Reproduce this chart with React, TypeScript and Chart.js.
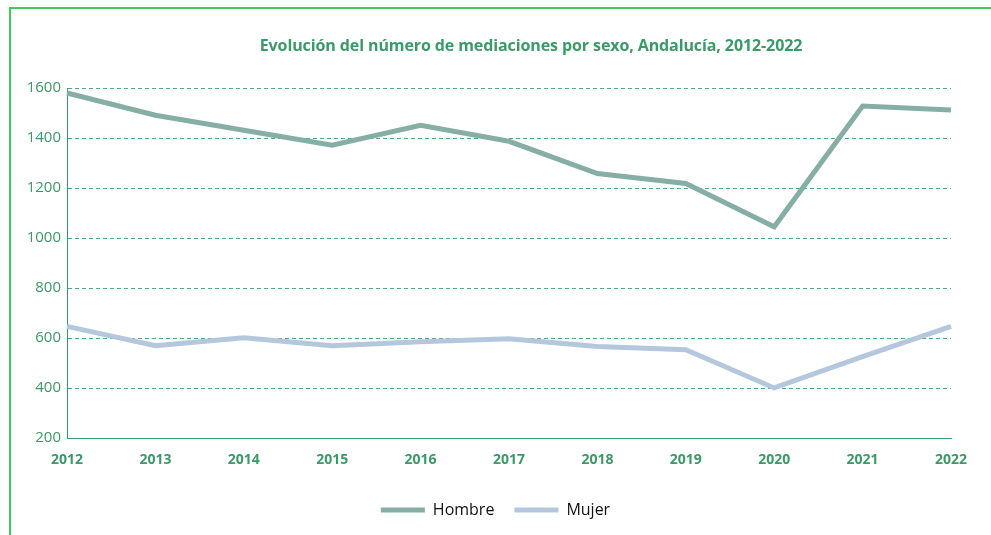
import React, { useEffect, useRef } from "react";
import { Chart, registerables } from "chart.js";

Chart.register(...registerables);

const years = ["2012", "2013", "2014", "2015", "2016", "2017", "2018", "2019", "2020", "2021", "2022"];
const hombre = [1580, 1491, 1431, 1371, 1451, 1387, 1258, 1218, 1045, 1528, 1512];
const mujer = [647, 570, 602, 570, 586, 598, 567, 554, 401, 526, 647];
const titleText = "Evolución del número de mediaciones por sexo, Andalucía, 2012-2022";

const GREEN = "#3a9a68";
const GRID = "#52aa7e";
const HOMBRE_COLOR = "#86aea4";
const MUJER_COLOR = "#b5c7dd";

export default function App() {
  const ref = useRef<HTMLCanvasElement | null>(null);

  useEffect(() => {
    if (!ref.current) return;
    const chart = new Chart(ref.current, {
      type: "line",
      data: {
        labels: years,
        datasets: [
          {
            label: "Hombre",
            data: hombre,
            borderColor: HOMBRE_COLOR,
            backgroundColor: HOMBRE_COLOR,
            borderWidth: 5,
            pointRadius: 0,
            tension: 0,
          },
          {
            label: "Mujer",
            data: mujer,
            borderColor: MUJER_COLOR,
            backgroundColor: MUJER_COLOR,
            borderWidth: 5,
            pointRadius: 0,
            tension: 0,
          },
        ],
      },
      options: {
        animation: false,
        responsive: false,
        maintainAspectRatio: false,
        layout: { padding: { left: 0, right: 40, top: 88, bottom: 8 } },
        plugins: {
          title: { display: false },
          legend: {
            position: "bottom",
            labels: {
              boxWidth: 44,
              boxHeight: 5,
              padding: 20,
              color: "#111",
              font: { family: "'Open Sans', sans-serif", size: 16 },
              generateLabels: (c: any) =>
                Chart.defaults.plugins.legend.labels.generateLabels(c).map((l: any) => ({
                  ...l,
                  lineWidth: 0,
                })),
            },
          },
          tooltip: { enabled: false },
        },
        scales: {
          x: {
            grid: { display: false, drawTicks: false },
            border: { display: true, color: GREEN, width: 1 },
            ticks: {
              color: GREEN,
              padding: 13,
              font: { family: "'Open Sans', sans-serif", size: 14, weight: "bold" },
              maxRotation: 0,
            },
          },
          y: {
            min: 200,
            max: 1600,
            afterFit: (s: any) => {
              s.width = 67;
            },
            grid: { color: GRID, drawTicks: false, lineWidth: 1 },
            border: { display: true, color: GREEN, dash: [4, 3] },
            ticks: {
              stepSize: 200,
              color: GREEN,
              padding: 6,
              font: { family: "'Open Sans', sans-serif", size: 15 },
              callback: (v: any) => String(v),
            },
          },
        },
      },
      plugins: [
        {
          id: "centerLegend",
          afterLayout: (c: any) => {
            const l = c.legend;
            if (l) {
              l.left = 0;
              l.right = c.width;
              l.width = c.width;
              l.top += 1;
              l.bottom += 1;
            }
          },
        },
      ],
    });
    return () => chart.destroy();
  }, []);

  return (
    <div
      style={{
        position: "fixed",
        left: 0,
        top: 0,
        width: 991,
        height: 535,
        background: "#fff",
      }}
    >
      <div
        style={{
          position: "absolute",
          left: 9,
          top: 7,
          width: 991,
          height: 535,
          borderLeft: "2px solid #3ccb5c",
          borderTop: "2px solid #3ccb5c",
        }}
      />
      <canvas ref={ref} width={991} height={535} style={{ position: "absolute", left: 0, top: 0 }} />
      <div
        style={{
          position: "absolute",
          left: 531,
          top: 45,
          transform: "translate(-50%, -50%)",
          whiteSpace: "nowrap",
          color: GREEN,
          fontFamily: "'Open Sans', sans-serif",
          fontWeight: "bold",
          fontSize: 16,
          letterSpacing: -0.1,
        }}
      >
        {titleText}
      </div>
    </div>
  );
}
